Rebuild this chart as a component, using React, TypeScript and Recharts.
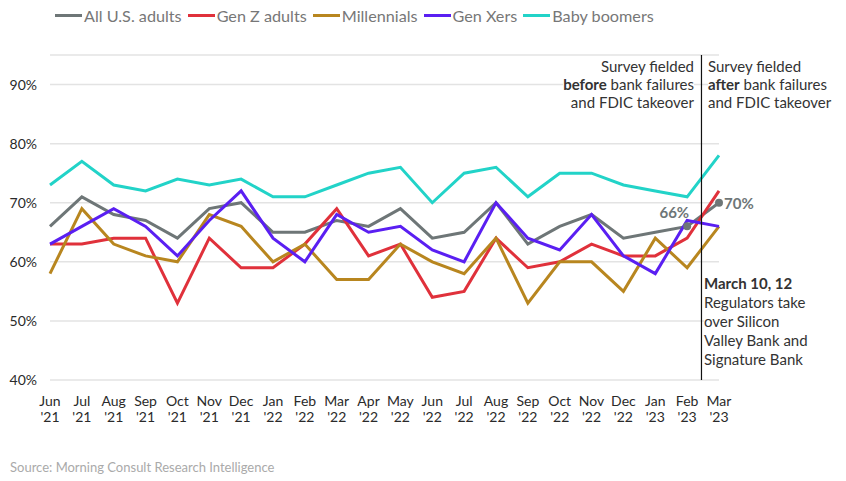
import React from "react";
import { LineChart, Line, XAxis, YAxis, CartesianGrid, ReferenceLine, Legend } from "recharts";

const months = ["Jun","Jul","Aug","Sep","Oct","Nov","Dec","Jan","Feb","Mar","Apr","May","Jun","Jul","Aug","Sep","Oct","Nov","Dec","Jan","Feb","Mar"];
const years = ["'21","'21","'21","'21","'21","'21","'21","'22","'22","'22","'22","'22","'22","'22","'22","'22","'22","'22","'22","'23","'23","'23"];

const allAdults = [66,71,68,67,64,69,70,65,65,67,66,69,64,65,70,63,66,68,64,65,66,70];
const genZ = [63,63,64,64,53,64,59,59,63,69,61,63,54,55,64,59,60,63,61,61,64,72];
const millennials = [58,69,63,61,60,68,66,60,63,57,57,63,60,58,64,53,60,60,55,64,59,66];
const genX = [63,66,69,66,61,67,72,64,60,68,65,66,62,60,70,64,62,68,61,58,67,66];
const boomers = [73,77,73,72,74,73,74,71,71,73,75,76,70,75,76,71,75,75,73,72,71,78];

const yTicks = [40,50,60,70,80,90];

const series = [
  { key: "all", name: "All U.S. adults", color: "#6e7677", values: allAdults },
  { key: "genz", name: "Gen Z adults", color: "#e0313b", values: genZ },
  { key: "mill", name: "Millennials", color: "#b8861f", values: millennials },
  { key: "genx", name: "Gen Xers", color: "#5a1ff2", values: genX },
  { key: "boom", name: "Baby boomers", color: "#22d3c8", values: boomers },
];

const data = months.map((m, i) => {
  const row: any = { idx: i };
  series.forEach((s) => (row[s.key] = s.values[i]));
  return row;
});

const FONT = "Lato, 'Open Sans', sans-serif";

const XTick = (props: any) => {
  const { x, y, payload } = props;
  const i = payload.value;
  return (
    <text x={x} y={y} textAnchor="middle" fontFamily={FONT} fontSize={14} fill="#2a2a2a">
      <tspan x={x} dy={18}>{months[i]}</tspan>
      <tspan x={x} dy={16}>{years[i]}</tspan>
    </text>
  );
};

const LegendContent = () => (
  <div style={{ display: "flex", alignItems: "center", height: 20, fontFamily: FONT, fontSize: 16.2, color: "#777", whiteSpace: "nowrap" }}>
    {series.map((s) => (
      <div key={s.key} style={{ display: "flex", alignItems: "center", marginRight: 6 }}>
        <div style={{ width: 27, height: 3, background: s.color, marginRight: 2 }} />
        <span>{s.name}</span>
      </div>
    ))}
  </div>
);

const allDot = (props: any) => {
  const { cx, cy, index } = props;
  if (index < 20) return <g key={index} />;
  return <circle key={index} cx={cx} cy={cy} r={4} fill="#6e7677" />;
};

const allLabel = (props: any) => {
  const { x, y, index, value } = props;
  if (index === 20)
    return (
      <text key={index} x={x + 2} y={y - 8} textAnchor="end" fontFamily={FONT} fontWeight={700} fontSize={15} fill="#6e7677">
        {value}%
      </text>
    );
  if (index === 21)
    return (
      <text key={index} x={x + 5} y={y + 6} textAnchor="start" fontFamily={FONT} fontWeight={700} fontSize={15} fill="#6e7677">
        {value}%
      </text>
    );
  return <g key={index} />;
};

const txt: React.CSSProperties = {
  position: "absolute",
  fontFamily: FONT,
  fontSize: 15,
  color: "#333",
  background: "#fff",
  lineHeight: "18px",
  whiteSpace: "nowrap",
};

export default function App() {
  return (
    <div style={{ position: "absolute", left: 0, top: 0, width: 846, height: 481, background: "#fff" }}>
      <LineChart width={846} height={481} data={data} margin={{ top: 35, right: 127, bottom: 71, left: 0 }}>
        <CartesianGrid horizontal={true} vertical={false} stroke="#e3e3e3" strokeWidth={1.5} />
        <XAxis
          dataKey="idx"
          type="number"
          domain={[0, 21]}
          ticks={months.map((_, i) => i)}
          interval={0}
          axisLine={false}
          tickLine={false}
          height={30}
          tick={<XTick />}
        />
        <YAxis
          type="number"
          domain={[40, 95]}
          ticks={yTicks}
          width={50}
          axisLine={false}
          tickLine={false}
          tickMargin={7}
          tickFormatter={(v: number) => `${v}%`}
          tick={{ fontFamily: FONT, fontSize: 14, fill: "#2a2a2a" }}
        />
        <Legend
          verticalAlign="top"
          height={20}
          content={<LegendContent />}
          wrapperStyle={{ position: "absolute", top: 5, left: 55, width: "auto" }}
        />
        {series.map((s) => (
          <Line
            key={s.key}
            dataKey={s.key}
            name={s.name}
            stroke={s.color}
            strokeWidth={3}
            dot={s.key === "all" ? allDot : false}
            label={s.key === "all" ? allLabel : undefined}
            isAnimationActive={false}
            type="linear"
          />
        ))}
        <ReferenceLine x={20.45} stroke="#111" strokeWidth={1.2} />
      </LineChart>
      <div style={{ ...txt, right: 846 - 694, top: 57, textAlign: "right" }}>
        Survey fielded<br />
        <b>before</b> bank failures<br />
        and FDIC takeover
      </div>
      <div style={{ ...txt, left: 708, top: 57, textAlign: "left" }}>
        Survey fielded<br />
        <b>after</b> bank failures<br />
        and FDIC takeover
      </div>
      <div style={{ ...txt, left: 704, top: 274, lineHeight: "19px" }}>
        <b>March 10, 12</b><br />
        Regulators take<br />
        over Silicon<br />
        Valley Bank and<br />
        Signature Bank
      </div>
      <div style={{ position: "absolute", left: 10, top: 459, fontFamily: FONT, fontSize: 13, color: "#aaa" }}>
        Source: Morning Consult Research Intelligence
      </div>
    </div>
  );
}
